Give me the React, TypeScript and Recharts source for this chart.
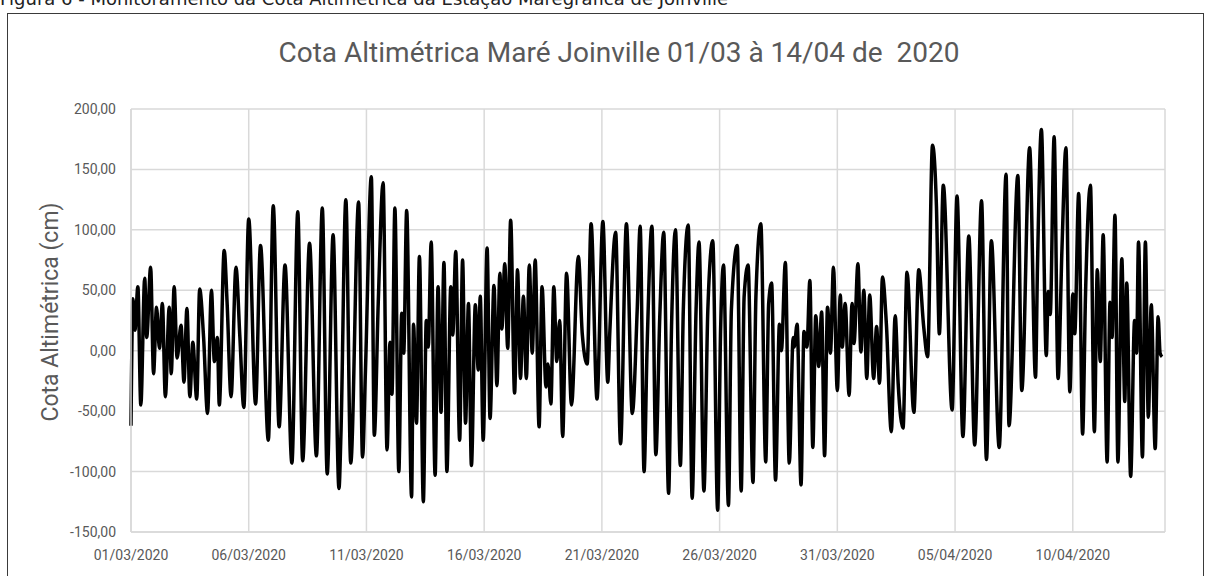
import React from "react";
import { LineChart, Line, XAxis, YAxis, CartesianGrid } from "recharts";

// Tide readings [hours since 01/03/2020 00:00, cota (cm)]
const marA = [
  [0, -62], [2, 43], [4, 17], [7, 53], [10, -45], [14, 60], [16, 11], [20, 69], [23, -19], [26, 36],
  [29, 2], [32, 39], [35, -38], [39, 36], [41, -19], [44, 53], [47, -6], [51, 21], [54, -26], [57, 35],
  [60, -38], [63, 7], [67, -40], [70, 51], [74, 11], [78, -52], [82, 50], [85, -9], [88, 11], [90, -45],
  [95, 83], [98, 39], [102, -38], [107, 69], [111, 11], [115, -47],
];
const marB = [
  [120, 109], [127, -44], [132, 87], [140, -74], [145, 120], [151, -63], [157, 71], [164, -93], [170, 115],
  [175, -91], [182, 89], [189, -87], [195, 118], [200, -102], [206, 96], [212, -114], [214, -69], [219, 125],
  [224, -93], [232, 123], [236, -88], [239, -16],
];
const marC = [
  [245, 144], [248, -70], [252, 39], [257, 139], [261, -82], [264, 7], [266, -36], [269, 118], [273, -100],
  [276, 31], [278, -2], [281, 116], [286, -121], [288, 22], [291, -60], [294, 78], [298, -125], [301, 25],
  [303, 3], [306, 90], [310, -103], [313, 53], [316, -51], [319, 73], [322, -100], [326, 53], [328, 13],
  [331, 82], [335, -74], [338, 75], [341, -60], [344, 39], [347, -95], [351, 38], [354, -16], [356, 45],
];
const marD = [
  [359, -74], [363, 85], [366, -56], [370, 54], [373, -29], [376, 64], [378, 18], [381, 72], [384, 2],
  [387, 108], [391, -35], [394, 67], [397, -23], [400, 45], [403, -23], [406, 71], [409, -2], [412, 75],
  [416, -63], [419, 53], [423, -30], [425, -11], [428, -44], [431, 53], [434, -9], [437, 25], [440, -71],
  [444, 64], [449, -45], [456, 78], [460, 14], [465, -11], [469, 105], [475, -40],
];
const marE = [
  [481, 107], [486, -26], [488, 14], [494, 98], [499, -77], [505, 105], [511, -52], [516, 34], [519, 103],
  [523, -100], [526, 0], [531, 103], [535, -86], [539, 28], [543, 98], [548, -118], [551, 20], [555, 100],
  [560, -95], [563, 34], [568, 104], [572, -122], [576, 34], [579, 90], [584, -116], [588, 34], [593, 91],
];
const marF = [
  [598, -132], [601, 17], [604, 71], [609, -128], [612, 34], [618, 87], [622, -116], [625, 45], [629, 71],
  [634, -109], [637, 45], [642, 105], [647, -92], [650, 39], [653, 56], [657, -107], [661, 22], [663, 0],
  [667, 73], [671, -93], [675, 11], [676, 3], [679, 22], [683, -111], [686, 16], [689, 3], [692, 58],
  [695, -80], [698, 29], [701, -13], [704, 32], [707, -87], [710, 36],
];
const marG = [
  [713, -2], [716, 69], [720, -33], [723, 46], [725, 3], [728, 39], [732, -37], [735, 39], [737, 6],
  [741, 72], [744, -1], [747, 50], [750, -23], [753, 46], [757, -23], [760, 20], [763, -27], [766, 61],
  [770, 22], [775, -67], [779, 29], [782, -27], [787, -64], [791, 65], [798, -51], [803, 67], [808, 20],
  [812, -5], [817, 170], [821, 120], [824, 14], [828, 137],
];
const abrH = [
  [837, -49], [842, 128], [848, -71], [854, 95], [860, -78], [867, 124], [872, -90], [877, 91], [885, -80],
  [892, 146], [895, -62], [904, 145], [908, -33], [916, 168], [922, -22], [924, 69], [928, 183], [933, -4],
  [935, 49], [937, 30], [941, 177], [945, -23], [949, 85], [953, 168], [957, -34],
];
const abrI = [
  [960, 47], [962, 14], [966, 130], [970, -69], [973, 47], [978, 137], [982, -67], [985, 67], [988, -9],
  [991, 96], [995, -92], [998, 40], [1000, 11], [1003, 112], [1006, -92], [1010, 76], [1013, -42],
  [1015, 56], [1019, -104], [1023, 25], [1025, -2], [1027, 90], [1031, -88], [1034, 90], [1037, -55],
  [1040, 38], [1044, -81], [1047, 28], [1049, -2], [1051, -5],
];

const xTicks = [0, 120, 240, 360, 480, 600, 720, 840, 960];
const xTickLabels = [
  "01/03/2020", "06/03/2020", "11/03/2020", "16/03/2020", "21/03/2020",
  "26/03/2020", "31/03/2020", "05/04/2020", "10/04/2020",
];
const yTicks = [-150, -100, -50, 0, 50, 100, 150, 200];

const tideData = [...marA, ...marB, ...marC, ...marD, ...marE, ...marF, ...marG, ...abrH, ...abrI].map(
  ([h, cm]) => ({ h, cm })
);

const font = "Roboto, 'Liberation Sans', sans-serif";
const textGray = "#595959";
const gridGray = "#d9d9d9";

const fmtCm = (v: number) => v.toFixed(2).replace(".", ",");
const fmtDate = (h: number) => xTickLabels[xTicks.indexOf(h)] ?? "";

export default function App() {
  return (
    <div style={{ position: "absolute", left: 0, top: 0, width: 1212, height: 576, overflow: "hidden", background: "#fff" }}>
      {/* figure caption, cut off at the top of the screenshot */}
      <div
        style={{
          position: "absolute",
          left: 0,
          top: -12,
          fontFamily: "'DejaVu Sans', sans-serif",
          fontSize: 18,
          color: "#222",
          whiteSpace: "nowrap",
        }}
      >
        Figura 6 - Monitoramento da Cota Altimétrica da Estação Maregráfica de Joinville
      </div>

      {/* chart frame */}
      <div
        style={{
          position: "absolute",
          left: 7,
          top: 13,
          width: 1197,
          height: 600,
          border: "1px solid #3a3a3a",
          boxSizing: "border-box",
        }}
      />

      <div
        style={{
          position: "absolute",
          left: 619,
          top: 36,
          transform: "translateX(-50%)",
          fontFamily: font,
          fontSize: 28,
          color: textGray,
          whiteSpace: "pre",
        }}
      >
        Cota Altimétrica Maré Joinville 01/03 à 14/04 de  2020
      </div>

      <div
        style={{
          position: "absolute",
          left: 50,
          top: 312,
          transform: "translate(-50%, -50%) rotate(-90deg)",
          fontFamily: font,
          fontSize: 23,
          color: textGray,
          whiteSpace: "nowrap",
        }}
      >
        Cota Altimétrica (cm)
      </div>

      <div style={{ position: "absolute", left: 0, top: 0 }}>
        <LineChart width={1212} height={576} data={tideData} margin={{ top: 109, right: 47, left: 71, bottom: 14 }}>
          <CartesianGrid stroke={gridGray} strokeWidth={1.5} />
          <XAxis
            type="number"
            dataKey="h"
            domain={[0, 1054]}
            ticks={xTicks}
            interval={0}
            tickFormatter={fmtDate}
            tick={{ fontSize: 14, fontFamily: font, fill: textGray }}
            axisLine={{ stroke: gridGray, strokeWidth: 1.5 }}
            tickLine={false}
            tickMargin={12}
            height={30}
          />
          <YAxis
            type="number"
            domain={[-150, 200]}
            ticks={yTicks}
            interval={0}
            tickFormatter={fmtCm}
            tick={{ fontSize: 14, fontFamily: font, fill: textGray }}
            axisLine={{ stroke: gridGray, strokeWidth: 1.5 }}
            tickLine={false}
            tickMargin={9}
            width={60}
          />
          <Line
            type="monotone"
            dataKey="cm"
            stroke="#000"
            strokeWidth={3.5}
            dot={false}
            isAnimationActive={false}
          />
        </LineChart>
      </div>
    </div>
  );
}
